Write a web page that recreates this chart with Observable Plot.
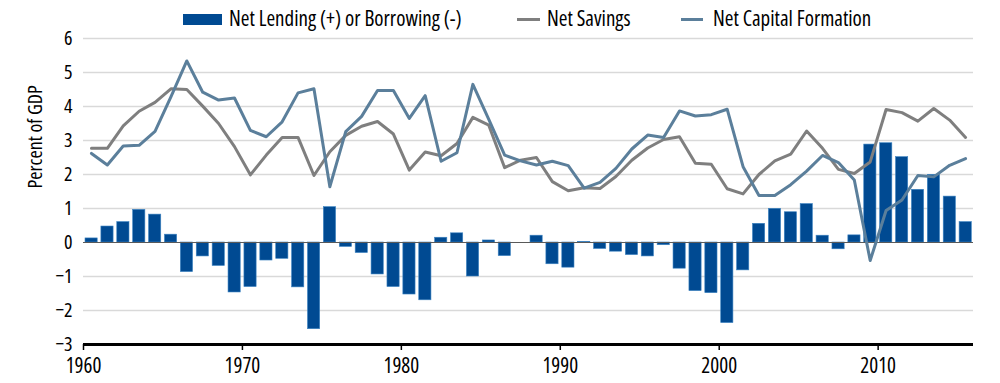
<!DOCTYPE html>
<html><head><meta charset="utf-8">
<script src="https://cdn.jsdelivr.net/npm/d3@7"></script>
<script src="https://cdn.jsdelivr.net/npm/@observablehq/plot@0.6"></script>
<style>
body{margin:0;background:#fff;}
#wrap{position:relative;width:1000px;height:383px;font-family:"Open Sans",sans-serif;font-stretch:condensed;}
.leg{position:absolute;top:5px;font-size:21px;font-weight:500;color:#000;line-height:26px;white-space:nowrap;z-index:2}
.sw{position:absolute;z-index:2}
#chart{position:absolute;left:0;top:0;}
</style>
</head><body>
<div id="wrap">
  <div class="sw" style="left:183px;top:14px;width:39px;height:11px;background:#004a92"></div>
  <div class="leg" style="left:229px">Net Lending (+) or Borrowing (-)</div>
  <div class="sw" style="left:517px;top:18px;width:23px;height:3px;background:#7f7f7f"></div>
  <div class="leg" style="left:547px">Net Savings</div>
  <div class="sw" style="left:681px;top:18px;width:22px;height:3px;background:#5b7f9b"></div>
  <div class="leg" style="left:713px">Net Capital Formation</div>
  <div id="chart"></div>
</div>
<script>
const years = [1960,1961,1962,1963,1964,1965,1966,1967,1968,1969,
  1970,1971,1972,1973,1974,1975,1976,1977,1978,1979,
  1980,1981,1982,1983,1984,1985,1986,1987,1988,1989,
  1990,1991,1992,1993,1994,1995,1996,1997,1998,1999,
  2000,2001,2002,2003,2004,2005,2006,2007,2008,2009,
  2010,2011,2012,2013,2014,2015];
const netLending = [0.12,0.47,0.60,0.96,0.82,0.23,-0.87,-0.41,-0.69,-1.47,
  -1.31,-0.53,-0.48,-1.32,-2.55,1.04,-0.13,-0.31,-0.94,-1.31,
  -1.53,-1.70,0.14,0.27,-1.00,0.06,-0.40,0.00,0.20,-0.64,
  -0.74,0.02,-0.19,-0.27,-0.37,-0.41,-0.08,-0.77,-1.43,-1.49,
  -2.37,-0.82,0.55,0.99,0.89,1.13,0.20,-0.20,0.21,2.88,
  2.92,2.51,1.55,1.99,1.35,0.60];
const netSavings = [2.77,2.77,3.43,3.86,4.12,4.52,4.50,4.01,3.50,2.82,
  1.99,2.57,3.09,3.09,1.97,2.67,3.15,3.42,3.56,3.19,
  2.13,2.66,2.55,2.91,3.68,3.45,2.20,2.42,2.50,1.79,
  1.52,1.61,1.59,1.94,2.42,2.78,3.03,3.11,2.33,2.30,
  1.58,1.43,2.00,2.40,2.60,3.28,2.77,2.15,2.03,2.37,
  3.91,3.82,3.57,3.94,3.60,3.09];
const netCapital = [2.62,2.28,2.84,2.86,3.27,4.28,5.34,4.42,4.19,4.25,
  3.30,3.11,3.55,4.40,4.52,1.64,3.26,3.71,4.47,4.47,
  3.65,4.32,2.39,2.64,4.65,3.62,2.57,2.40,2.28,2.39,
  2.26,1.60,1.77,2.18,2.75,3.16,3.09,3.87,3.72,3.76,
  3.92,2.23,1.38,1.38,1.70,2.10,2.56,2.35,1.84,-0.53,
  0.94,1.25,1.97,1.93,2.27,2.47];
const xTicks = [1960,1970,1980,1990,2000,2010];
const yTicks = [-3,-2,-1,0,1,2,3,4,5,6];
const yLabel = "Percent of GDP";

const data = years.map((y,i)=>({year:y, lending:netLending[i], savings:netSavings[i], capital:netCapital[i]}));
const font = '"Open Sans",sans-serif';

const chart = Plot.plot({
  width:1000, height:383,
  marginLeft:83, marginRight:27, marginTop:38, marginBottom:39,
  style:{fontFamily:font, fontStretch:"condensed", fontWeight:500, fontSize:"20px", color:"#000", background:"transparent", overflow:"visible"},
  x:{domain:[1960,2016]},
  y:{domain:[-3,6]},
  marks:[
    Plot.gridY(yTicks.filter(v=>v!==-3 && v!==0), {stroke:"#d9d9d9", strokeOpacity:1, strokeWidth:1.5}),
    Plot.rectY(data, {x1:"year", x2:d=>d.year+1, y:"lending", fill:"#004a92", stroke:"#3d84c2", strokeWidth:0.6, insetLeft:2, insetRight:1.7}),
    Plot.ruleY([0], {stroke:"#595959", strokeWidth:1.2}),
    Plot.lineY(data, {x:d=>d.year+0.5, y:"savings", stroke:"#7f7f7f", strokeWidth:3}),
    Plot.lineY(data, {x:d=>d.year+0.5, y:"capital", stroke:"#5b7f9b", strokeWidth:3}),
    Plot.ruleY([-3], {stroke:"#000", strokeWidth:3}),
    Plot.axisX({ticks:xTicks, tickSize:6, tickPadding:8, tickFormat:d=>String(d), fontSize:21, label:null, strokeWidth:1.5}),
    Plot.axisY({ticks:yTicks, tickSize:0, tickPadding:11, tickFormat:d=>String(d).replace("-", "\u2212"), label:null, fontSize:20}),
    Plot.text([yLabel], {frameAnchor:"left", dx:-48, dy:-3, rotate:-90, fontSize:20, text:d=>d})
  ]
});
document.getElementById("chart").appendChild(chart);
</script>
</body></html>
